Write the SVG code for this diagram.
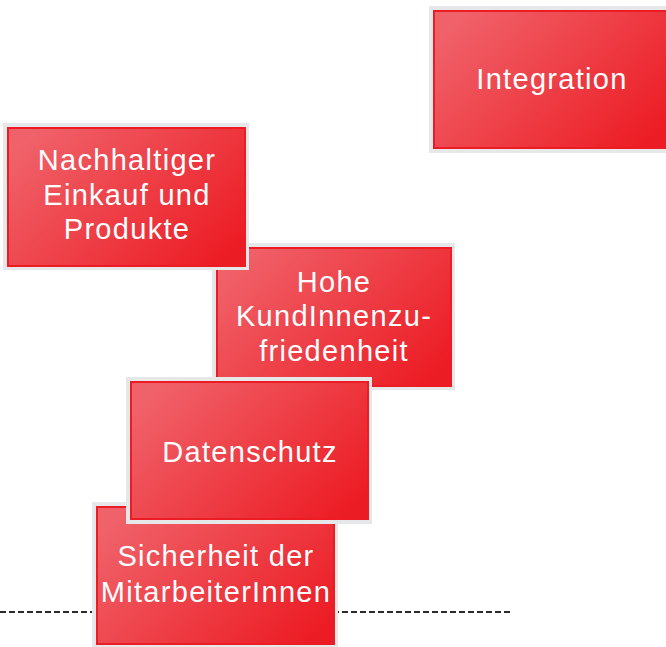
<svg xmlns="http://www.w3.org/2000/svg" width="666" height="647" viewBox="0 0 666 647">
<defs>
<linearGradient id="rg" x1="0" y1="0.2" x2="1" y2="0.8">
<stop offset="0" stop-color="#f0626a"/>
<stop offset="1" stop-color="#ec1c24"/>
</linearGradient>
<style>
.halo{fill:#e6e7e8;}
.box{fill:url(#rg);stroke:#ed1c24;stroke-width:2;}
.lbl{font-family:"Liberation Sans",Arial,sans-serif;font-size:29px;fill:#ffffff;text-anchor:middle;letter-spacing:1.3px;}
.dash{stroke:#2b2b2b;stroke-width:2;stroke-dasharray:6 3;fill:none;}
</style>
</defs>
<rect width="666" height="647" fill="#ffffff"/>
<g id="connectors">
<line class="dash" x1="0" y1="612" x2="512" y2="612"/>
</g>
<g id="integration">
<rect class="halo" x="429" y="6" width="240" height="147"/>
<rect class="box" x="434" y="11" width="236" height="137"/>
<text class="lbl" x="552" y="89">Integration</text>
</g>
<g id="sicherheit">
<rect class="halo" x="92" y="502" width="246" height="148"/>
<rect class="box" x="97" y="507" width="237" height="137"/>
<text class="lbl" x="216" y="566">Sicherheit der</text>
<text class="lbl" x="216" y="602">MitarbeiterInnen</text>
</g>
<g id="hohe">
<rect class="halo" x="212" y="243" width="243" height="147"/>
<rect class="box" x="217" y="248" width="234" height="138"/>
<text class="lbl" x="334" y="292">Hohe</text>
<text class="lbl" x="334" y="326">KundInnenzu-</text>
<text class="lbl" x="334" y="361">friedenheit</text>
</g>
<g id="nachhaltiger">
<rect class="halo" x="3" y="123" width="246" height="147"/>
<rect class="box" x="8" y="128" width="237" height="138"/>
<text class="lbl" x="127" y="170">Nachhaltiger</text>
<text class="lbl" x="127" y="204.5">Einkauf und</text>
<text class="lbl" x="127" y="239">Produkte</text>
</g>
<g id="datenschutz">
<rect class="halo" x="126" y="377" width="246" height="147"/>
<rect class="box" x="131" y="382" width="237" height="137"/>
<text class="lbl" x="250" y="462">Datenschutz</text>
</g>
</svg>
